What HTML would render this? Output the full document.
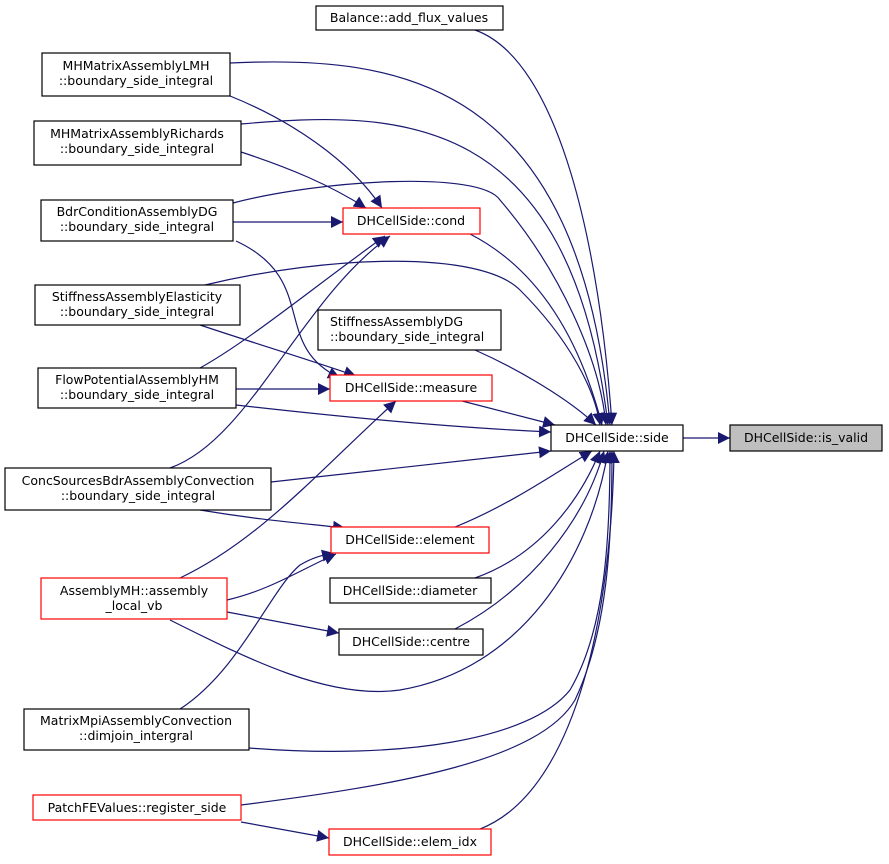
<!DOCTYPE html>
<html><head><meta charset="utf-8"><style>
html,body{margin:0;padding:0;background:#fff;}
svg{display:block;}
text{font-family:"DejaVu Sans","Liberation Sans",sans-serif;font-size:12.5px;fill:#000;}
</style></head><body>
<svg width="889" height="864" viewBox="0 0 889 864" xmlns="http://www.w3.org/2000/svg">
<defs>
<marker id="a" viewBox="0 0 10 10" refX="10" refY="5" markerWidth="12" markerHeight="12" markerUnits="userSpaceOnUse" orient="auto">
<path d="M0,0 L10,5 L0,10 z" fill="#191970"/></marker>
</defs>
<g fill="none" stroke="#191970" stroke-width="1.2" marker-end="url(#a)">
<path d="M475,30 C560,60 600,250 612,425"/>
<path d="M230,63 C400,55 580,80 610,425"/>
<path d="M230,96 C290,120 350,160 382,208"/>
<path d="M241,124 C400,110 570,110 608,425"/>
<path d="M241,152 C290,168 330,185 366,208"/>
<path d="M233,203 C320,180 480,170 500,200 C560,270 600,360 606,425"/>
<path d="M233,222 L343,222"/>
<path d="M236,241 C320,280 270,345 340,378"/>
<path d="M470,234 C540,270 580,340 602,425"/>
<path d="M205,285 C330,255 480,250 520,290 C570,340 595,390 600,425"/>
<path d="M200,325 C260,345 310,360 356,376"/>
<path d="M475,350 C520,370 570,400 596,425"/>
<path d="M200,368 C250,340 310,290 385,236"/>
<path d="M236,389 L330,389"/>
<path d="M236,405 C350,418 460,428 551,432"/>
<path d="M462,401 L555,425"/>
<path d="M170,468 C250,440 300,300 390,236"/>
<path d="M271,482 C380,470 470,460 551,451"/>
<path d="M200,510 C260,520 300,523 345,528"/>
<path d="M455,527 C510,505 560,470 592,451"/>
<path d="M180,578 C260,540 320,470 396,401"/>
<path d="M227,600 C270,590 300,570 336,554"/>
<path d="M227,612 C270,620 300,626 339,633"/>
<path d="M170,620 C250,660 330,700 400,690 C520,670 590,560 608,451"/>
<path d="M475,578 C540,555 580,500 600,451"/>
<path d="M455,629 C530,590 585,520 604,451"/>
<path d="M180,709 C240,670 270,590 300,565 C315,556 325,555 334,553"/>
<path d="M249,748 C400,760 530,740 570,690 C605,630 610,540 610,451"/>
<path d="M241,805 C400,785 540,760 575,700 C608,630 612,540 612,451"/>
<path d="M241,822 L329,838"/>
<path d="M480,829 C580,790 612,600 614,451"/>
<path d="M683,438 L730,438"/>
</g>
<g stroke-width="1.2" fill="#fff">
<rect x="316" y="6" width="187" height="24" stroke="#000"/>
<rect x="42" y="53" width="188" height="43" stroke="#000"/>
<rect x="34" y="121" width="207" height="44" stroke="#000"/>
<rect x="41" y="200" width="192" height="41" stroke="#000"/>
<rect x="343" y="208" width="137" height="26" stroke="#f00"/>
<rect x="35" y="285" width="205" height="40" stroke="#000"/>
<rect x="318" y="310" width="183" height="40" stroke="#000"/>
<rect x="38" y="368" width="198" height="40" stroke="#000"/>
<rect x="330" y="375" width="162" height="26" stroke="#f00"/>
<rect x="551" y="425" width="132" height="26" stroke="#000"/>
<rect x="730" y="425" width="152" height="26" stroke="#000" fill="#bfbfbf"/>
<rect x="5" y="468" width="266" height="42" stroke="#000"/>
<rect x="331" y="527" width="158" height="26" stroke="#f00"/>
<rect x="330" y="578" width="161" height="25" stroke="#000"/>
<rect x="41" y="578" width="186" height="41" stroke="#f00"/>
<rect x="339" y="629" width="144" height="26" stroke="#000"/>
<rect x="24" y="709" width="225" height="41" stroke="#000"/>
<rect x="33" y="795" width="208" height="25" stroke="#f00"/>
<rect x="329" y="829" width="162" height="26" stroke="#f00"/>
</g>
<g>
<text x="409" y="22" text-anchor="middle">Balance::add_flux_values</text>
<text x="136" y="70" text-anchor="middle">MHMatrixAssemblyLMH</text>
<text x="136" y="85" text-anchor="middle">::boundary_side_integral</text>
<text x="137" y="138" text-anchor="middle">MHMatrixAssemblyRichards</text>
<text x="137" y="153" text-anchor="middle">::boundary_side_integral</text>
<text x="137" y="216" text-anchor="middle">BdrConditionAssemblyDG</text>
<text x="137" y="231" text-anchor="middle">::boundary_side_integral</text>
<text x="411" y="225" text-anchor="middle">DHCellSide::cond</text>
<text x="137" y="301" text-anchor="middle">StiffnessAssemblyElasticity</text>
<text x="137" y="316" text-anchor="middle">::boundary_side_integral</text>
<text x="330" y="326">StiffnessAssemblyDG</text>
<text x="330" y="341">::boundary_side_integral</text>
<text x="137" y="384" text-anchor="middle">FlowPotentialAssemblyHM</text>
<text x="137" y="399" text-anchor="middle">::boundary_side_integral</text>
<text x="411" y="392" text-anchor="middle">DHCellSide::measure</text>
<text x="617" y="442" text-anchor="middle">DHCellSide::side</text>
<text x="806" y="442" text-anchor="middle">DHCellSide::is_valid</text>
<text x="138" y="485" text-anchor="middle">ConcSourcesBdrAssemblyConvection</text>
<text x="138" y="500" text-anchor="middle">::boundary_side_integral</text>
<text x="410" y="544" text-anchor="middle">DHCellSide::element</text>
<text x="410" y="595" text-anchor="middle">DHCellSide::diameter</text>
<text x="134" y="595" text-anchor="middle">AssemblyMH::assembly</text>
<text x="134" y="610" text-anchor="middle">_local_vb</text>
<text x="411" y="646" text-anchor="middle">DHCellSide::centre</text>
<text x="136" y="725" text-anchor="middle">MatrixMpiAssemblyConvection</text>
<text x="136" y="740" text-anchor="middle">::dimjoin_intergral</text>
<text x="137" y="812" text-anchor="middle">PatchFEValues::register_side</text>
<text x="410" y="846" text-anchor="middle">DHCellSide::elem_idx</text>
</g>
</svg>
</body></html>
